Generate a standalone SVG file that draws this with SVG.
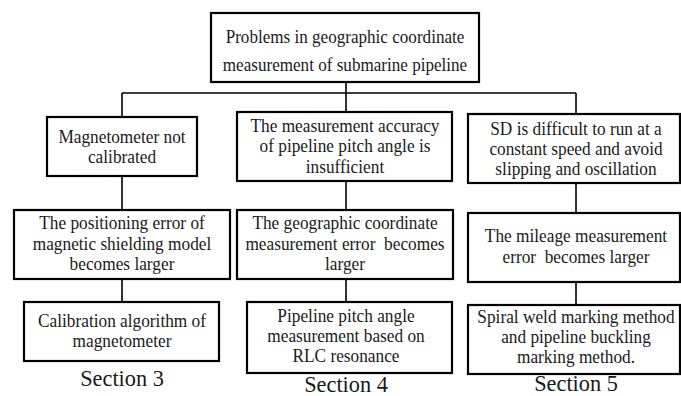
<svg xmlns="http://www.w3.org/2000/svg" width="681" height="396" viewBox="0 0 681 396">
<style>
.box{fill:#fff;stroke:#000;stroke-width:2.2}
.t{font-size:19px;fill:#1a1a1a;text-anchor:middle}
.sec{font-size:24px;fill:#1a1a1a;text-anchor:middle}
.ln{stroke:#000;stroke-width:1.6;fill:none}
</style>
<rect width="681" height="396" fill="#fff"/>
<g id="connectors">
<path class="ln" d="M346,82V93M122,93H576M122,93V117M346,93V112M576,93V114"/>
<path class="ln" d="M122,176V210M122,279V302"/>
<path class="ln" d="M346,181V210M346,279V302"/>
<path class="ln" d="M576,183V213M576,282V305"/>
</g>
<g font-family="'Liberation Serif', 'Times New Roman', Times, serif">
<g id="root">
<rect class="box" x="211" y="13" width="268" height="69" stroke-width="2.6"/>
<g transform="translate(345,0) scale(0.9,1)">
<text class="t" x="0" y="43" font-size="19.5">Problems in geographic coordinate</text>
<text class="t" x="0" y="71" font-size="19.5">measurement of submarine pipeline</text>
</g>
</g>
<g id="a1">
<rect class="box" x="47" y="117" width="150" height="59"/>
<g transform="translate(122,0) scale(0.91,1)">
<text class="t" x="0" y="143">Magnetometer not</text>
<text class="t" x="0" y="163">calibrated</text>
</g>
</g>
<g id="a2">
<rect class="box" x="14" y="210" width="216" height="69"/>
<g transform="translate(122,0) scale(0.91,1)">
<text class="t" x="0" y="229">The positioning error of</text>
<text class="t" x="0" y="250">magnetic shielding model</text>
<text class="t" x="0" y="270">becomes larger</text>
</g>
</g>
<g id="a3">
<rect class="box" x="24" y="302" width="195" height="59"/>
<g transform="translate(122,0) scale(0.91,1)">
<text class="t" x="0" y="327">Calibration algorithm of</text>
<text class="t" x="0" y="347">magnetometer</text>
</g>
</g>
<text class="sec" transform="translate(122,386) scale(0.93,1)">Section 3</text>
<g id="b1">
<rect class="box" x="237" y="112" width="215" height="69"/>
<g transform="translate(345,0) scale(0.91,1)">
<text class="t" x="0" y="132">The measurement accuracy</text>
<text class="t" x="0" y="152">of pipeline pitch angle is</text>
<text class="t" x="0" y="173">insufficient</text>
</g>
</g>
<g id="b2">
<rect class="box" x="237" y="210" width="216" height="69"/>
<g transform="translate(345,0) scale(0.91,1)">
<text class="t" x="0" y="229">The geographic coordinate</text>
<text class="t" x="0" y="250" xml:space="preserve">measurement error  becomes</text>
<text class="t" x="0" y="270">larger</text>
</g>
</g>
<g id="b3">
<rect class="box" x="247" y="302" width="205" height="71"/>
<g transform="translate(346,0) scale(0.91,1)">
<text class="t" x="0" y="322">Pipeline pitch angle</text>
<text class="t" x="0" y="342">measurement based on</text>
<text class="t" x="0" y="362">RLC resonance</text>
</g>
</g>
<text class="sec" transform="translate(346,392) scale(0.93,1)">Section 4</text>
<g id="c1">
<rect class="box" x="468" y="114" width="212" height="69"/>
<g transform="translate(576,0) scale(0.91,1)">
<text class="t" x="0" y="135">SD is difficult to run at a</text>
<text class="t" x="0" y="155">constant speed and avoid</text>
<text class="t" x="0" y="175">slipping and oscillation</text>
</g>
</g>
<g id="c2">
<rect class="box" x="468" y="213" width="212" height="69"/>
<g transform="translate(576,0) scale(0.91,1)">
<text class="t" x="0" y="242">The mileage measurement</text>
<text class="t" x="0" y="263" xml:space="preserve">error  becomes larger</text>
</g>
</g>
<g id="c3">
<rect class="box" x="468" y="305" width="212" height="69"/>
<g transform="translate(576,0) scale(0.91,1)">
<text class="t" x="0" y="323">Spiral weld marking method</text>
<text class="t" x="0" y="343">and pipeline buckling</text>
<text class="t" x="0" y="363">marking method.</text>
</g>
</g>
<text class="sec" transform="translate(576,391) scale(0.93,1)">Section 5</text>
</g>
</svg>
